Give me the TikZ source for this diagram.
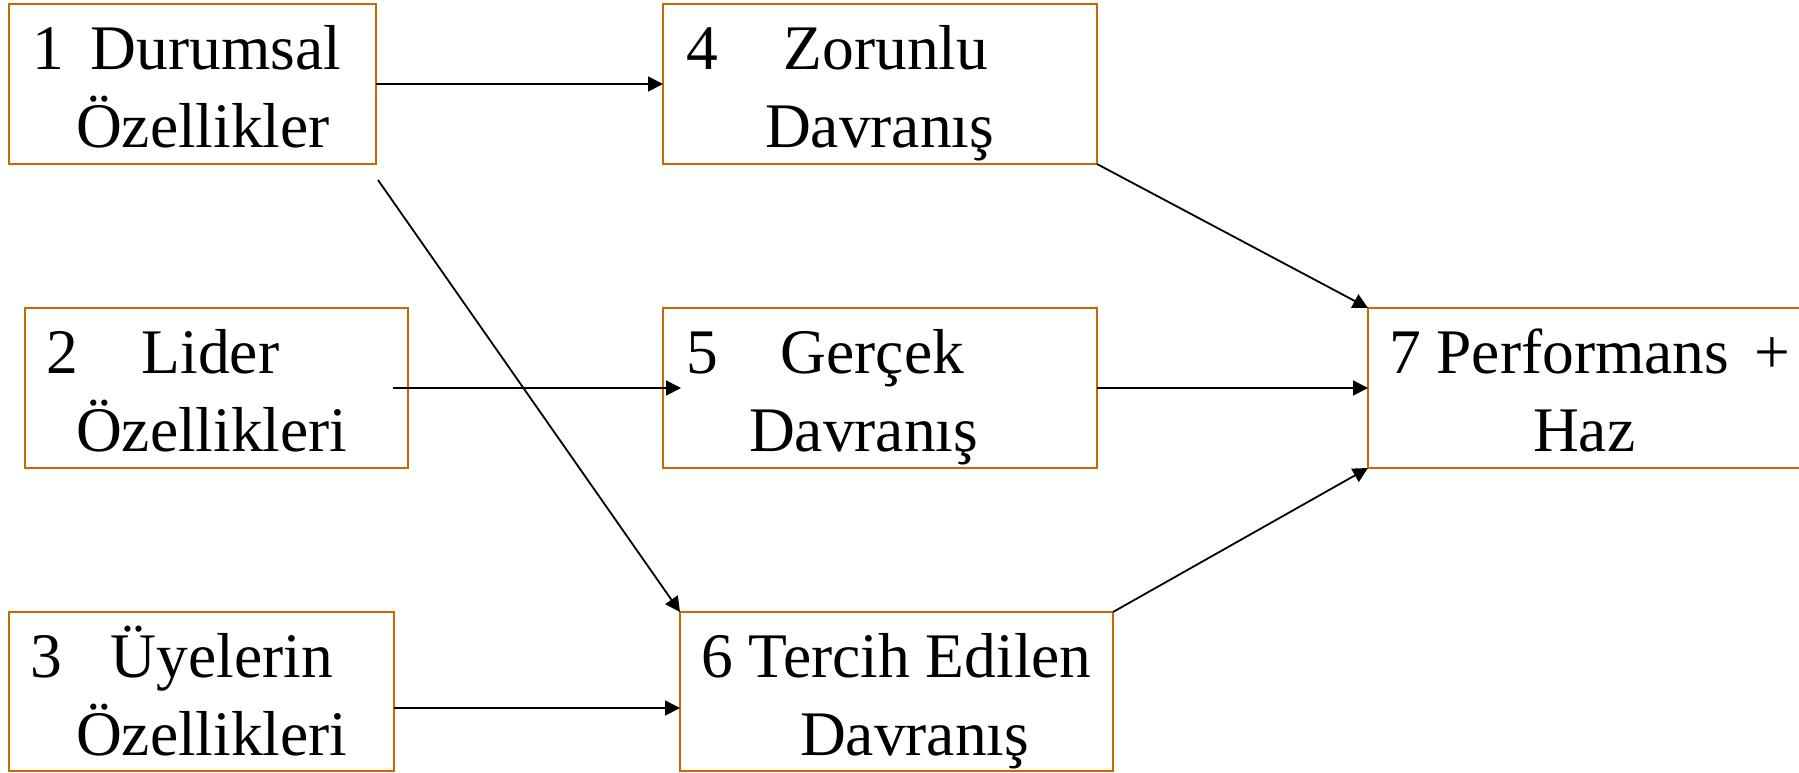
\documentclass[tikz,border=0pt]{standalone}
\usepackage{fontspec}
\setmainfont{Liberation Serif}
\usetikzlibrary{arrows.meta}
\definecolor{boxorange}{RGB}{204,102,0}
\begin{document}
\begin{tikzpicture}[x=1pt,y=-1pt,
  box/.style={draw=boxorange,line width=2pt,inner sep=0pt,outer sep=0pt,anchor=north west,minimum height=160pt},
  lbl/.style={anchor=base west,inner sep=0pt,outer sep=0pt,font=\fontsize{63.5pt}{78pt}\selectfont},
  arr/.style={draw=black,line width=1.8pt,-{Triangle[length=15pt,width=15pt]}}]
\useasboundingbox (0,0) rectangle (1799,772);
\clip (0,0) rectangle (1799,772);
% boxes
\node[box,minimum width=367pt] (b1) at (9,4) {};
\node[box,minimum width=434pt] (b4) at (663,4) {};
\node[box,minimum width=383pt] (b2) at (25,308) {};
\node[box,minimum width=434pt] (b5) at (663,308) {};
\node[box,minimum width=385pt,minimum height=159pt] (b3) at (9,612) {};
\node[box,minimum width=433pt,minimum height=159pt] (b6) at (680,612) {};
\node[box,minimum width=460pt] (b7) at (1368,308) {};
% labels
\node[lbl] (t1a) at (32,69) {1\hspace{27pt}Durumsal};
\node[lbl] (t1b) at (76,147) {Özellikler};
\node[lbl] (t4a) at (686,69) {4\hspace{66pt}Zorunlu};
\node[lbl] (t4b) at (765,147) {Davranış};
\node[lbl] (t2a) at (46,373) {2\hspace{64pt}Lider};
\node[lbl] (t2b) at (76,451) {Özellikleri};
\node[lbl] (t5a) at (686,373) {5\hspace{63pt}Gerçek};
\node[lbl] (t5b) at (749,451) {Davranış};
\node[lbl] (t7a) at (1389,373) {7 Performans\hspace{25pt}+};
\node[lbl] (t7b) at (1533,451) {Haz};
\node[lbl] (t3a) at (30,677) {3\hspace{49pt}Üyelerin};
\node[lbl] (t3b) at (76,755) {Özellikleri};
\node[lbl] (t6a) at (701,677) {6 Tercih Edilen};
\node[lbl] (t6b) at (800,755) {Davranış};
% free ends
\coordinate (c16) at (378,180);
\coordinate (c25s) at (393,388);
\coordinate (c25e) at (681,388);
\coordinate (c36) at (394,708);
% connectors
\draw[arr] (b1.east) -- (b4.west);
\draw[arr] (c16) -- (b6.north west);
\draw[arr] (c25s) -- (c25e);
\draw[arr] (c36) -- (c36 -| b6.west);
\draw[arr] (b4.south east) -- (b7.north west);
\draw[arr] (b5.east) -- (b7.west);
\draw[arr] (b6.north east) -- (b7.south west);
\end{tikzpicture}
\end{document}
